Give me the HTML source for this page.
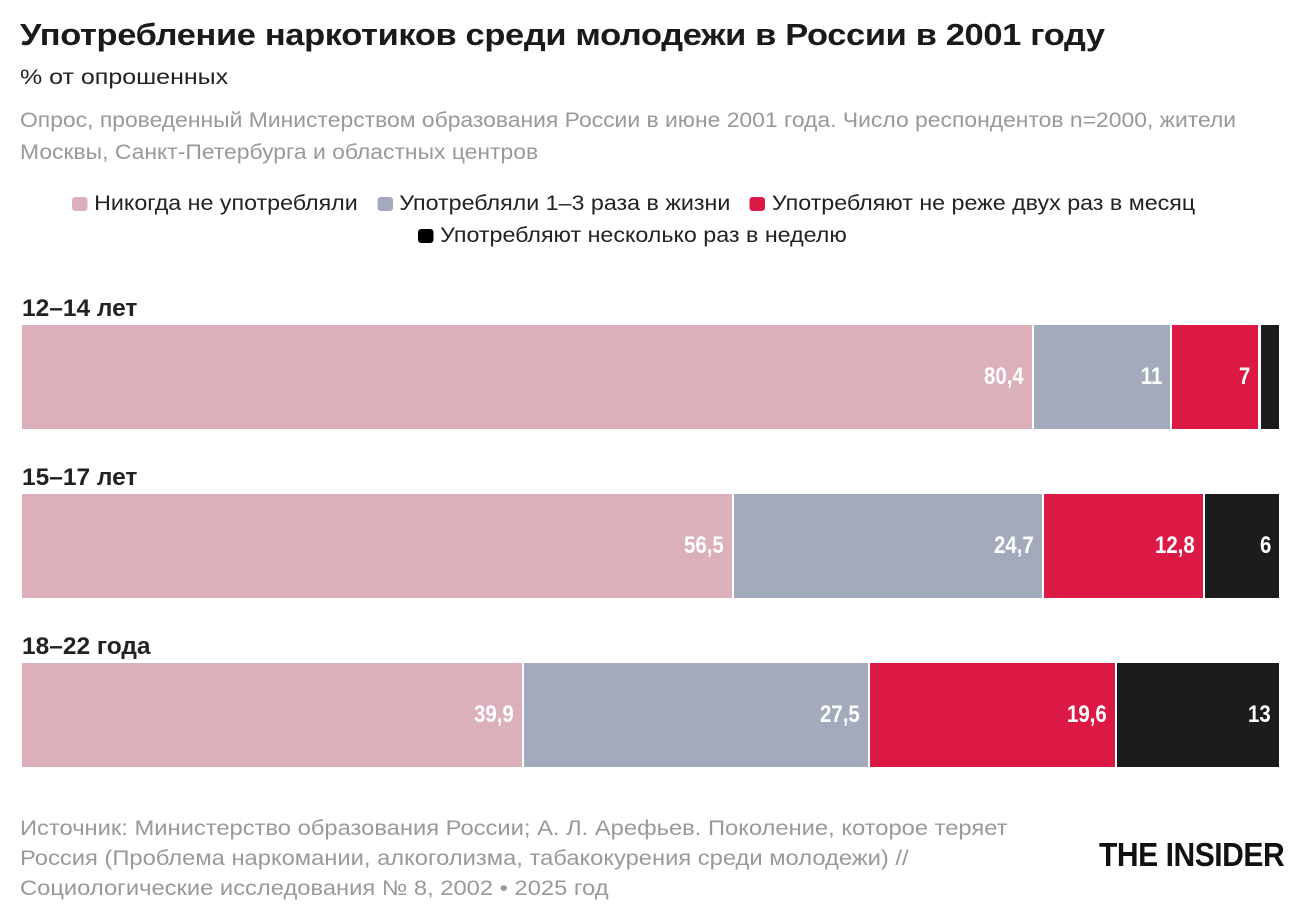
<!DOCTYPE html>
<html><head><meta charset="utf-8"><style>
body{margin:0;width:1300px;height:918px;background:#fff;font-family:"Liberation Sans",sans-serif;position:relative;overflow:hidden}
.a{position:absolute;white-space:nowrap;transform-origin:0 0}
.t{left:20px;top:17px;font-size:31px;font-weight:bold;color:#1a1a1a;letter-spacing:-0.3px;transform:scaleX(1.11)}
.s{left:20px;top:66px;font-size:21px;color:#222;transform:scaleX(1.19)}
.d{left:20px;top:105px;font-size:21px;color:#999;line-height:32px;transform:scaleX(1.09)}
.lg{font-size:21px;color:#222;transform:scaleX(1.107)}
.sw{display:inline-block;width:14px;height:14px;border-radius:3px;margin-right:6px;vertical-align:-1px}
.g{font-weight:bold;font-size:24px;color:#222;left:22px;transform:scaleX(1.02)}
.b{position:absolute;height:104px}
.v{position:absolute;right:8px;top:38px;font-weight:bold;font-size:24px;color:#fff;transform:scaleX(0.85);transform-origin:100% 0}
.f{left:20px;top:814px;font-size:21px;color:#999;line-height:30px;transform:scaleX(1.13)}
.logo{left:1099px;top:836px;font-weight:bold;font-size:33px;color:#111;letter-spacing:-0.5px;transform:scaleX(0.91)}
</style></head><body>
<div class="a t">Употребление наркотиков среди молодежи в России в 2001 году</div>
<div class="a s">% от опрошенных</div>
<div class="a d">Опрос, проведенный Министерством образования России в июне 2001 года. Число респондентов n=2000, жители<br>Москвы, Санкт-Петербурга и областных центров</div>
<div class="a lg" style="left:72px;top:192px"><span class="sw" style="background:#dcb0ba"></span>Никогда не употребляли &nbsp;&nbsp;<span class="sw" style="background:#a3aabb"></span>Употребляли 1–3 раза в жизни &nbsp;&nbsp;<span class="sw" style="background:#dc1944"></span>Употребляют не реже двух раз в месяц</div>
<div class="a lg" style="left:418px;top:224px"><span class="sw" style="background:#000"></span>Употребляют несколько раз в неделю</div>

<div class="a g" style="top:295px">12–14 лет</div>
<div class="b" style="top:325px;left:22px;width:1010px;background:#dcb0ba"><span class="v">80,4</span></div>
<div class="b" style="top:325px;left:1034px;width:136px;background:#a3aabb"><span class="v">11</span></div>
<div class="b" style="top:325px;left:1172px;width:86px;background:#dc1944"><span class="v">7</span></div>
<div class="b" style="top:325px;left:1261px;width:18px;background:#1c1c1c"></div>

<div class="a g" style="top:464px">15–17 лет</div>
<div class="b" style="top:494px;left:22px;width:710px;background:#dcb0ba"><span class="v">56,5</span></div>
<div class="b" style="top:494px;left:734px;width:308px;background:#a3aabb"><span class="v">24,7</span></div>
<div class="b" style="top:494px;left:1044px;width:159px;background:#dc1944"><span class="v">12,8</span></div>
<div class="b" style="top:494px;left:1205px;width:74px;background:#1c1c1c"><span class="v">6</span></div>

<div class="a g" style="top:633px">18–22 года</div>
<div class="b" style="top:663px;left:22px;width:500px;background:#dcb0ba"><span class="v">39,9</span></div>
<div class="b" style="top:663px;left:524px;width:344px;background:#a3aabb"><span class="v">27,5</span></div>
<div class="b" style="top:663px;left:870px;width:245px;background:#dc1944"><span class="v">19,6</span></div>
<div class="b" style="top:663px;left:1117px;width:162px;background:#1c1c1c"><span class="v">13</span></div>

<div class="a f">Источник: Министерство образования России; А. Л. Арефьев. Поколение, которое теряет<br>Россия (Проблема наркомании, алкоголизма, табакокурения среди молодежи) //<br>Социологические исследования № 8, 2002 • 2025 год</div>
<div class="a logo">THE INSIDER</div>
</body></html>
